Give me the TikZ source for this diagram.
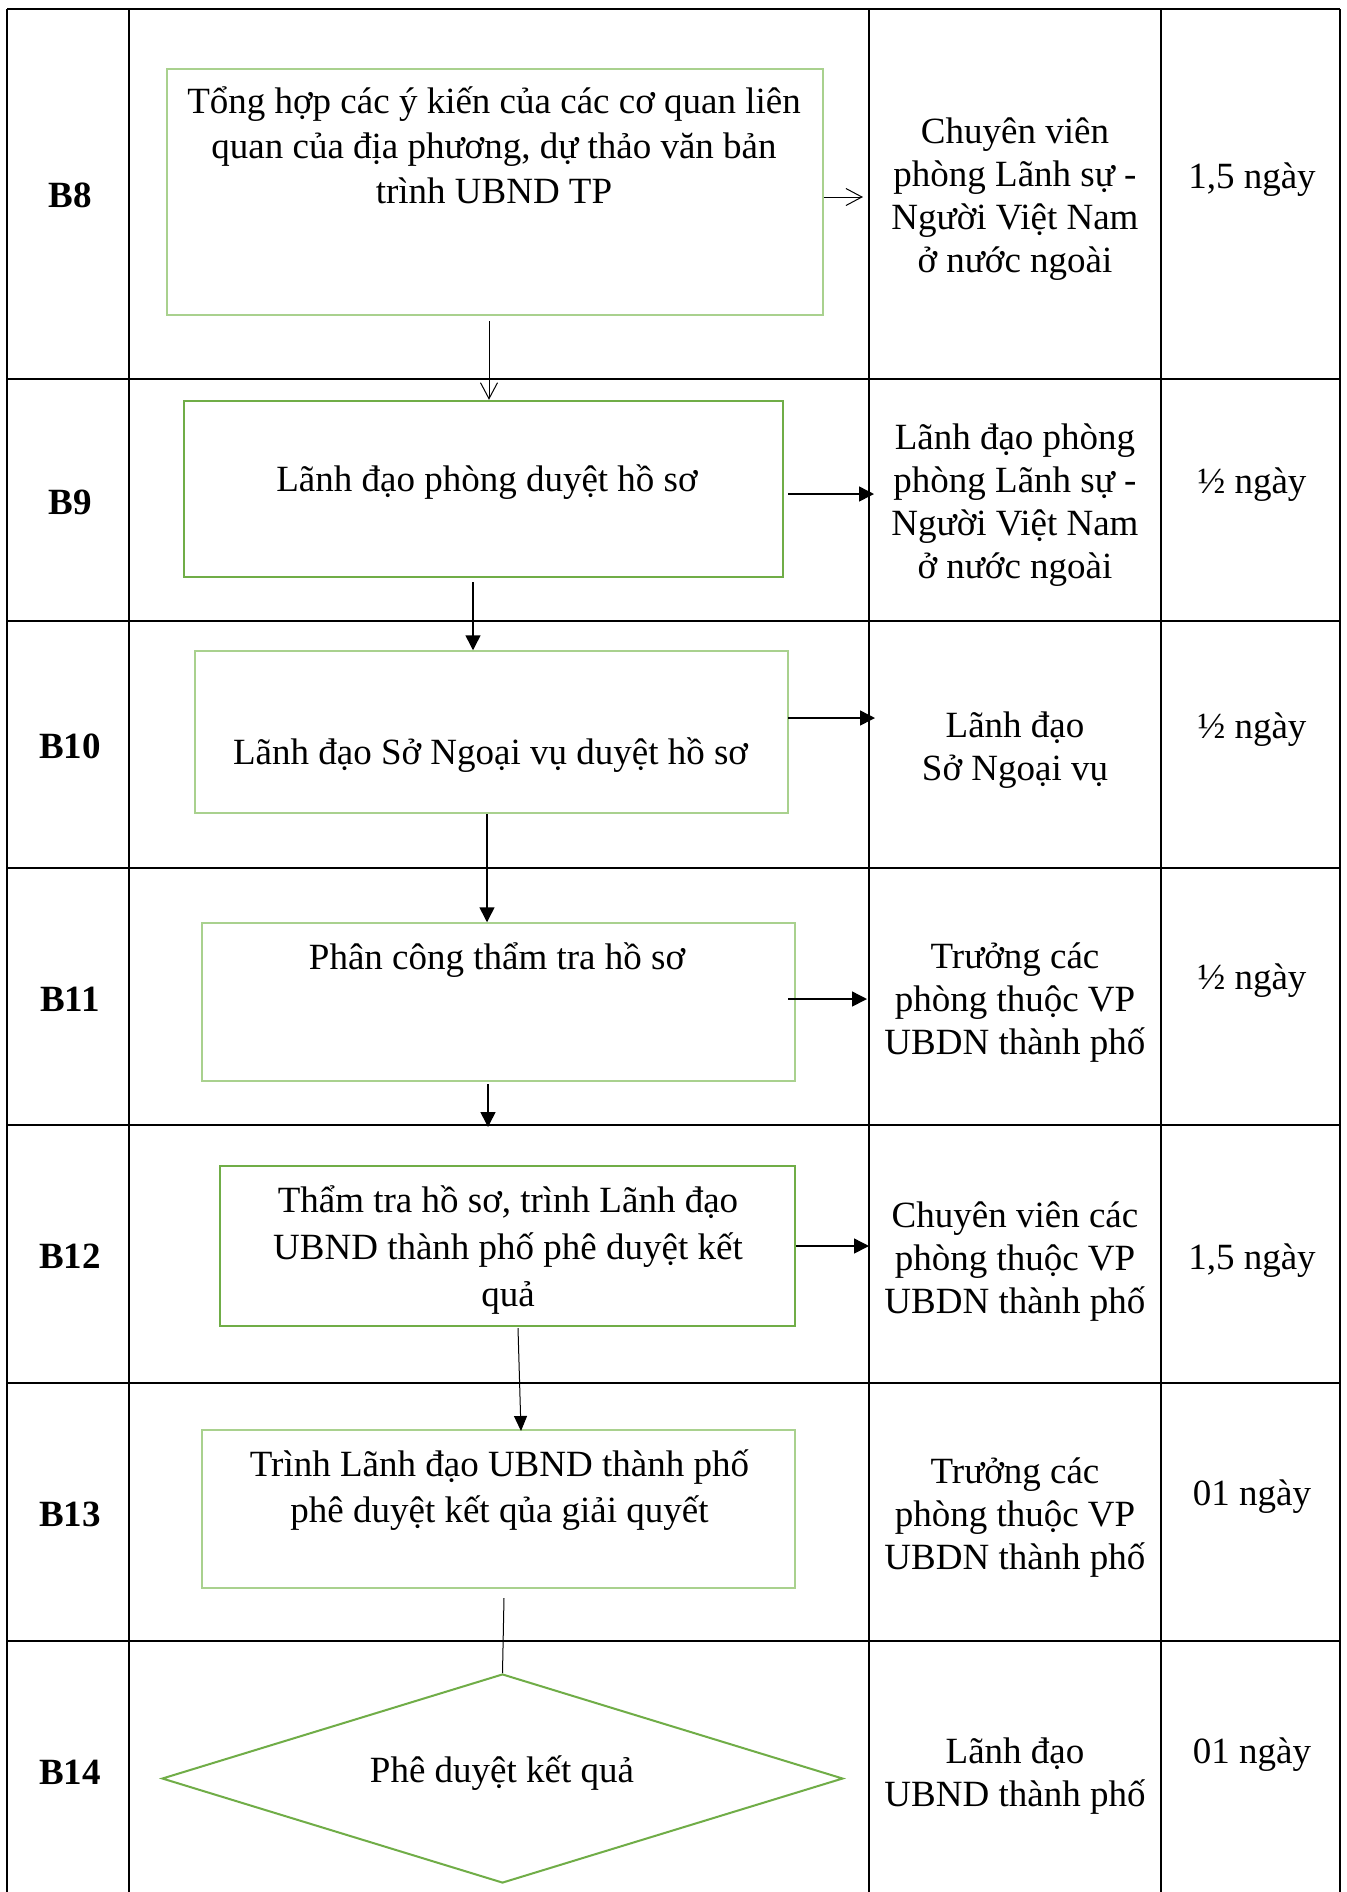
\documentclass[tikz,border=0pt]{standalone}
\usepackage{fontspec}
\IfFontExistsTF{LiberationSerif-Regular.ttf}
  {\setmainfont{LiberationSerif-Regular.ttf}[BoldFont=LiberationSerif-Bold.ttf]}
  {\setmainfont{Liberation Serif}}
\usetikzlibrary{arrows.meta,shapes.geometric}
\definecolor{lgreen}{HTML}{A9D18E}
\definecolor{dgreen}{HTML}{70AD47}
\begin{document}
\begin{tikzpicture}[x=0.5pt,y=-0.5pt,
  gridline/.style={line width=1pt,black},
  lbox/.style={draw=lgreen,line width=0.75pt,inner sep=0pt,rectangle},
  dbox/.style={draw=dgreen,line width=1.25pt,inner sep=0pt,rectangle},
  dec/.style={draw=dgreen,line width=1pt,inner sep=0pt,diamond},
  txt/.style={align=center,inner sep=0pt,font=\fontsize{18.5}{21.5}\selectfont},
  steplbl/.style={inner sep=0pt,font=\fontsize{18.5}{21.5}\selectfont\bfseries},
  openarr/.style={line width=0.5pt,-{Straight Barb[length=8pt,width=8.5pt]}},
  fillarr/.style={line width=0.75pt,-{Triangle[length=7.5pt,width=7.5pt]}},
  plainline/.style={line width=0.5pt}]
\useasboundingbox (0,0) rectangle (1347,1892);
\fill[white] (0,0) rectangle (1347,1892);

% table grid
\foreach \xx in {7,129,869,1161,1340}{\draw[gridline] (\xx,9) -- (\xx,1892);}
\foreach \yy in {9,379,621,868,1125,1383,1641}{\draw[gridline] (7,\yy) -- (1340,\yy);}

% step labels
\node[steplbl] (l8) at (70,195) {B8};
\node[steplbl] (l9) at (70,502) {B9};
\node[steplbl] (l10) at (70,746) {B10};
\node[steplbl] (l11) at (70,999) {B11};
\node[steplbl] (l12) at (70,1256) {B12};
\node[steplbl] (l13) at (70,1514) {B13};
\node[steplbl] (l14) at (70,1772) {B14};

% boxes
\node[lbox,minimum width=328pt,minimum height=123pt] (b8) at (495,192) {};
\node[dbox,minimum width=299.5pt,minimum height=88pt] (b9) at (483.5,489) {};
\node[lbox,minimum width=296.5pt,minimum height=81pt] (b10) at (491.5,732) {};
\node[lbox,minimum width=296.5pt,minimum height=79pt] (b11) at (498.5,1002) {};
\node[dbox,minimum width=287.5pt,minimum height=80pt] (b12) at (507.5,1246) {};
\node[lbox,minimum width=296.5pt,minimum height=79pt] (b13) at (498.5,1509) {};
\node[dec,minimum width=340.5pt,minimum height=104.5pt] (b14) at (502.5,1778.5) {};

% box texts
\node[txt,font=\fontsize{18.5}{22.5}\selectfont] (t8) at (494,145) {Tổng hợp các ý kiến của các cơ quan liên\\quan của địa phương, dự thảo văn bản\\trình UBND TP};
\node[txt] (t9) at (487,482) {Lãnh đạo phòng duyệt hồ sơ};
\node[txt] (t10) at (490.5,755) {Lãnh đạo Sở Ngoại vụ duyệt hồ sơ};
\node[txt] (t11) at (497,960) {Phân công thẩm tra hồ sơ};
\node[txt,font=\fontsize{18.5}{23.5}\selectfont] (t12) at (508,1250) {Thẩm tra hồ sơ, trình Lãnh đạo\\UBND thành phố phê duyệt kết\\quả};
\node[txt,font=\fontsize{18.5}{23}\selectfont] (t13) at (499.5,1490) {Trình Lãnh đạo UBND thành phố\\phê duyệt kết qủa giải quyết};
\node[txt] (t14) at (502,1773) {Phê duyệt kết quả};

% responsible column
\node[txt] (r8) at (1015,199) {Chuyên viên\\phòng Lãnh sự -\\Người Việt Nam\\ở nước ngoài};
\node[txt] (r9) at (1015,505) {Lãnh đạo phòng\\phòng Lãnh sự -\\Người Việt Nam\\ở nước ngoài};
\node[txt] (r10) at (1015,750) {Lãnh đạo\\Sở Ngoại vụ};
\node[txt] (r11) at (1015,1003) {Trưởng các\\phòng thuộc VP\\UBDN thành phố};
\node[txt] (r12) at (1015,1262) {Chuyên viên các\\phòng thuộc VP\\UBDN thành phố};
\node[txt] (r13) at (1015,1518) {Trưởng các\\phòng thuộc VP\\UBDN thành phố};
\node[txt] (r14) at (1015,1776) {Lãnh đạo\\UBND thành phố};

% time column
\node[txt] (d8) at (1252,180) {1,5 ngày};
\node[txt] (d9) at (1252,485) {½ ngày};
\node[txt] (d10) at (1252,730) {½ ngày};
\node[txt] (d11) at (1252,981) {½ ngày};
\node[txt] (d12) at (1252,1261) {1,5 ngày};
\node[txt] (d13) at (1252,1497) {01 ngày};
\node[txt] (d14) at (1252,1755) {01 ngày};

% connector ends
\coordinate (e8r) at (863,197);
\coordinate (s8d) at (489,321);
\coordinate (s9r) at (788,494);
\coordinate (e9r) at (874,494);
\coordinate (s9d) at (473,582);
\coordinate (s10r) at (788,718);
\coordinate (e10r) at (875,718);
\coordinate (s10d) at (487,814);
\coordinate (s11r) at (788,999);
\coordinate (e11r) at (867,999);
\coordinate (s11d) at (488,1084);
\coordinate (e11d) at (488,1127);
\coordinate (e12r) at (869,1246);
\coordinate (s12d) at (518,1328);
\coordinate (e12d) at (521,1431);
\coordinate (s13d) at (504,1598);

% connectors
\draw[openarr] (b8.east |- e8r) -- (e8r);
\draw[openarr] (s8d) -- (b9.north -| s8d);
\draw[fillarr] (s9r) -- (e9r);
\draw[fillarr] (s9d) -- (b10.north -| s9d);
\draw[fillarr] (s10r) -- (e10r);
\draw[fillarr] (s10d) -- (b11.north -| s10d);
\draw[fillarr] (s11r) -- (e11r);
\draw[fillarr] (s11d) -- (e11d);
\draw[fillarr] (b12.east |- e12r) -- (e12r);
\draw[plainline,-{Triangle[length=7.5pt,width=6.5pt]}] (s12d) -- (e12d);
\draw[plainline] (s13d) -- (b14.north);
\end{tikzpicture}
\end{document}
